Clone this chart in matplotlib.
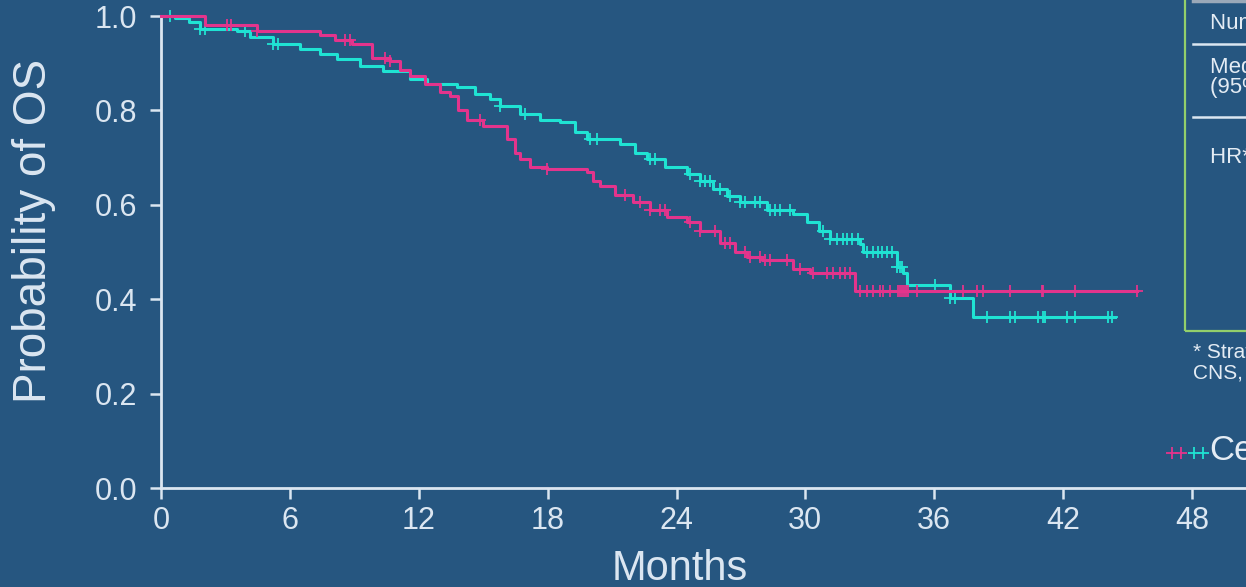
import numpy as np
import matplotlib.pyplot as plt

# colours
bg = '#265680'
pink = '#e3348c'
cyan = '#1fe3d3'
axcol = '#dbe6f1'
boxcol = '#93cf6b'

# Kaplan-Meier steps (months, survival)
pink_t = [0, 2.05, 4.47, 7.40, 8.10, 8.89, 9.82, 10.66, 11.13, 11.59, 12.29, 12.99,
          13.45, 13.83, 14.25, 14.99, 16.11, 16.48, 16.71, 17.18, 17.97, 19.83, 20.11,
          20.44, 21.14, 21.97, 22.77, 23.56, 24.49, 25.09, 26.02, 26.72, 27.28, 28.0,
          29.42, 30.21, 32.31, 45.44]
pink_s = [1.0, 0.98, 0.968, 0.96, 0.95, 0.94, 0.91, 0.905, 0.885, 0.873, 0.855, 0.84,
          0.83, 0.80, 0.78, 0.766, 0.74, 0.71, 0.696, 0.68, 0.675, 0.669, 0.65,
          0.639, 0.62, 0.605, 0.59, 0.575, 0.563, 0.545, 0.52, 0.50, 0.49, 0.484,
          0.463, 0.455, 0.418, 0.418]

cyan_t = [0, 0.65, 1.3, 1.82, 3.54, 4.14, 5.21, 6.47, 7.40, 8.19, 9.26, 10.33, 11.59,
          12.38, 13.78, 14.62, 15.32, 15.78, 16.71, 17.64, 18.58, 19.27, 19.83, 21.37,
          22.07, 22.63, 23.46, 24.49, 25.09, 25.70, 26.35, 26.95, 28.21, 29.42, 30.07,
          30.63, 31.15, 32.54, 32.68, 34.27, 34.55, 34.74, 36.73, 37.80, 44.41]
cyan_s = [1.0, 0.995, 0.987, 0.972, 0.968, 0.955, 0.941, 0.93, 0.92, 0.909, 0.895, 0.883,
          0.866, 0.856, 0.849, 0.835, 0.824, 0.809, 0.792, 0.78, 0.775, 0.755, 0.739,
          0.728, 0.71, 0.696, 0.68, 0.665, 0.65, 0.633, 0.618, 0.605, 0.59, 0.58, 0.563,
          0.545, 0.527, 0.516, 0.501, 0.469, 0.456, 0.431, 0.403, 0.363, 0.363]

# censoring times
pink_cens = [3.07, 3.26, 4.47, 8.57, 8.80, 10.43, 10.66, 14.85, 17.97, 21.60, 22.30,
             22.77, 23.23, 23.46, 24.63, 25.09, 25.79, 26.26, 26.49, 27.19, 27.42, 27.89,
             28.12, 28.35, 29.14, 29.75, 30.35, 31.01, 31.28, 31.61, 31.84, 32.08, 32.54,
             32.87, 33.15, 33.47, 33.61, 33.94, 34.31, 34.40, 34.50, 34.59, 34.68, 34.78,
             35.20, 37.34, 37.99, 38.27, 39.53, 41.01, 41.06, 42.55, 45.44]
cyan_cens = [0.42, 1.82, 2.05, 3.91, 5.21, 5.45, 15.78, 16.95, 19.97, 20.30, 22.77, 23.00,
             24.63, 25.09, 25.33, 25.56, 26.02, 26.49, 26.96, 27.19, 27.65, 27.89, 28.35,
             28.58, 28.82, 29.28, 30.82, 31.15, 31.47, 31.75, 31.94, 32.17, 32.45, 32.87,
             33.15, 33.38, 33.57, 33.80, 34.03, 34.27, 34.40, 34.50, 36.03, 36.73, 36.96,
             38.45, 39.53, 39.76, 40.83, 41.06, 41.15, 42.18, 42.55, 44.09, 44.27]

xticks = [0, 6, 12, 18, 24, 30, 36, 42, 48]
yticks = [0.0, 0.2, 0.4, 0.6, 0.8, 1.0]

plt.rcParams['font.family'] = ['Liberation Sans', 'DejaVu Sans']

W, H = 1246, 587
fig = plt.figure(figsize=(W / 100, H / 100), dpi=100, facecolor=bg)
ax = fig.add_axes([161 / W, (H - 488) / H, (W - 161) / W, 472 / H])
ax.set_facecolor(bg)


def km(times, surv, cens, col):
    times = np.asarray(times)
    surv = np.asarray(surv)
    ax.step(times, surv, where='post', color=col, lw=2.2, clip_on=False, zorder=3)
    c = np.asarray(cens)
    idx = np.searchsorted(times, c, side='right') - 1
    ax.plot(c, surv[idx], ls='none', marker='+', ms=8, mew=1.3, color=col,
            clip_on=False, zorder=3)


km(cyan_t, cyan_s, cyan_cens, cyan)
km(pink_t, pink_s, pink_cens, pink)

ax.set_xlim(0, (W - 161) / 21.48)
ax.set_ylim(0, 1)
ax.set_xticks(xticks)
ax.set_yticks(yticks)
ax.set_yticklabels(['%.1f' % v for v in yticks])

for s in ['top', 'right']:
    ax.spines[s].set_visible(False)
for s in ['left', 'bottom']:
    ax.spines[s].set_color(axcol)
    ax.spines[s].set_linewidth(2.0)
ax.tick_params(axis='both', colors=axcol, width=1.8, length=8, direction='out')
ax.tick_params(axis='y', labelsize=22, pad=9)
ax.tick_params(axis='x', labelsize=22, pad=5)

ax.set_xlabel('Months', fontsize=30, color=axcol)
ax.xaxis.set_label_coords((680 - 161) / 1085, (488 - 549) / 472)
ax.set_ylabel('Probability of OS', fontsize=33, color=axcol)
ax.yaxis.set_label_coords((56 - 161) / 1085, (488 - 231) / 472)

# results table (cut off by the slide edge)
fig.patches.append(plt.Rectangle((1185 / W, 1 - 331 / H), 200 / W, 340 / H,
                                 transform=fig.transFigure, fill=False,
                                 ec=boxcol, lw=1.6))
fig.add_artist(plt.Line2D([1193 / W, 1], [1 - 1 / H, 1 - 1 / H],
                          color='#9aa8b8', lw=2.5))
for yy in [44, 117]:
    fig.add_artist(plt.Line2D([1193 / W, 1], [1 - yy / H, 1 - yy / H],
                              color=axcol, lw=1.8))

tcol = '#e4ecf4'
fig.text(1210 / W, 1 - 23 / H, 'Number of patients', fontsize=16, color=tcol, va='center')
fig.text(1210 / W, 1 - 67 / H, 'Median OS, months', fontsize=16, color=tcol, va='center')
fig.text(1210 / W, 1 - 88 / H, '(95% CI)', fontsize=16, color=tcol, va='center')
fig.text(1210 / W, 1 - 158 / H, 'HR* (95% CI)', fontsize=16, color=tcol, va='center')
fig.text(1193 / W, 1 - 352 / H, '* Stratified by', fontsize=15, color=tcol, va='center')
fig.text(1193 / W, 1 - 373 / H, 'CNS, ECOG PS', fontsize=15, color=tcol, va='center')

# censored legend: two pink and two cyan crosses, then the label
leg_x = np.array([1172, 1181, 1194, 1203]) / W
leg_c = [pink, pink, cyan, cyan]
for lx, lc in zip(leg_x, leg_c):
    fig.add_artist(plt.Line2D([lx], [1 - 453 / H], ls='none', marker='+', ms=8,
                              mew=1.3, color=lc))
fig.text(1209 / W, 1 - 451 / H, 'Censored', fontsize=25, color=tcol, va='center')

fig.savefig('out.png', dpi=100, facecolor=bg)
